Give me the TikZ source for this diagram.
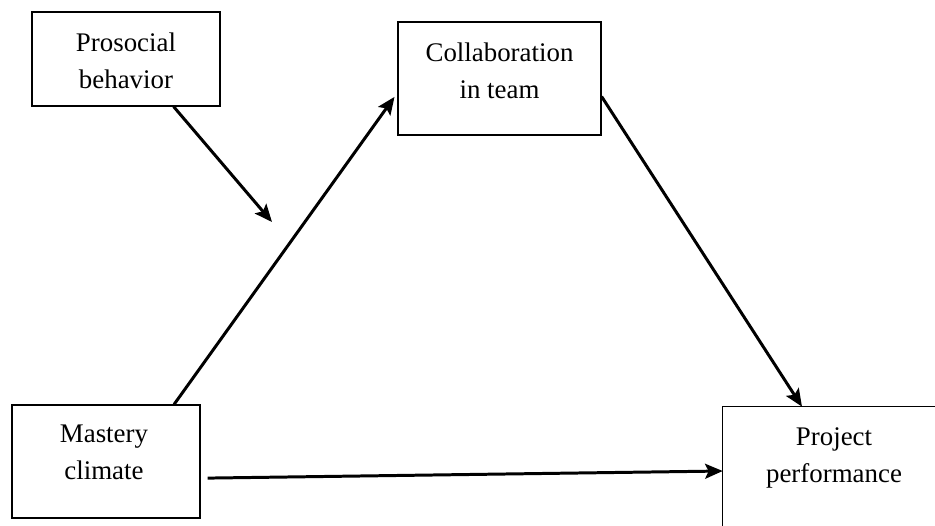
\documentclass[tikz,border=0pt]{standalone}
\usepackage{fontspec}
\setmainfont{Liberation Serif}
\usetikzlibrary{arrows.meta,positioning}

\begin{document}
\begin{tikzpicture}[x=0.02cm, y=-0.02cm,
  every node/.style={font=\fontsize{15.3}{21}\selectfont},
  box/.style={draw, line width=0.7pt, inner sep=0pt},
  lbl/.style={align=center, inner sep=0pt},
  arr/.style={-{Stealth[length=10pt,width=8.5pt,inset=2pt]}, line width=1.7pt}]
  \useasboundingbox (0,0) rectangle (935,525);
  \clip (0,0) rectangle (935,525);

  % Prosocial behavior (top-left)
  \node[box, minimum width=3.76cm, minimum height=1.88cm] (proso) at (126,59) {};
  \node[lbl] (prosotxt) at (126,60.5) {Prosocial\\behavior};

  % Collaboration (top-middle)
  \node[box, minimum width=4.06cm, minimum height=2.26cm] (collab) at (499.5,78.5) {};
  \node[lbl] (collabtxt) at (499.5,70.5) {Collaboration\\in team};

  % Mastery climate (bottom-left)
  \node[box, minimum width=3.76cm, minimum height=2.26cm] (mastery) at (106,461.5) {};
  \node[lbl] (masterytxt) at (104,452.5) {Mastery\\climate};

  % Project performance (bottom-right, runs off the page)
  \node[minimum width=8cm, minimum height=2.56cm] (proj) at (923,471) {};
  \draw[line width=0.7pt] (proj.north east) -- (proj.north west) -- (proj.south west);
  \node[lbl] (projtxt) at (834,458) {Project\\performance};

  % Paths
  \coordinate (target) at (272,222);
  \draw[arr] (proso.-45) -- (target);
  \draw[arr, shorten >=0.1cm] (mastery.40) -- (collab.188);
  \draw[arr] (collab.-10.4) -- (proj.152.3);
  \draw[arr, shorten <=0.14cm] (mastery.-10.5) -- (proj.west);

\end{tikzpicture}
\end{document}
